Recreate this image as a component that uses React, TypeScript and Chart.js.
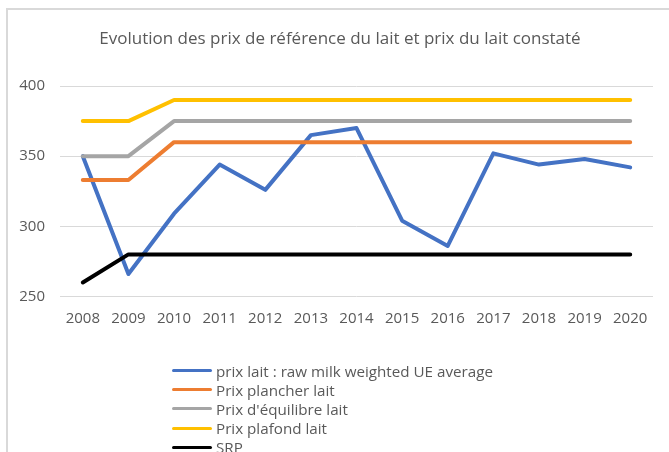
import React, { useEffect, useRef } from "react";
import { Chart, registerables } from "chart.js";

Chart.register(...registerables);

const years = ["2008", "2009", "2010", "2011", "2012", "2013", "2014", "2015", "2016", "2017", "2018", "2019", "2020"];
const prixLait = [350, 266, 309, 344, 326, 365, 370, 304, 286, 352, 344, 348, 342];
const prixPlancher = [333, 333, 360, 360, 360, 360, 360, 360, 360, 360, 360, 360, 360];
const prixEquilibre = [350, 350, 375, 375, 375, 375, 375, 375, 375, 375, 375, 375, 375];
const prixPlafond = [375, 375, 390, 390, 390, 390, 390, 390, 390, 390, 390, 390, 390];
const srp = [260, 280, 280, 280, 280, 280, 280, 280, 280, 280, 280, 280, 280];

const titleText = "Evolution des prix de référence du lait et prix du lait constaté";
const seriesNames = [
  "prix lait : raw milk weighted UE average",
  "Prix plancher lait",
  "Prix d'équilibre lait",
  "Prix plafond lait",
  "SRP",
];
const seriesColors = ["#4472C4", "#ED7D31", "#A5A5A5", "#FFC000", "#000000"];
const seriesData = [prixLait, prixPlancher, prixEquilibre, prixPlafond, srp];

const FONT = "'Open Sans', sans-serif";
const TEXT = "#595959";

export default function App() {
  const ref = useRef<HTMLCanvasElement | null>(null);

  useEffect(() => {
    if (!ref.current) return;
    const chart = new Chart(ref.current, {
      type: "line",
      data: {
        labels: years,
        datasets: seriesData.map((d, i) => ({
          label: seriesNames[i],
          data: d,
          borderColor: seriesColors[i],
          backgroundColor: seriesColors[i],
          borderWidth: 4,
          pointRadius: 0,
          tension: 0,
          fill: false,
          borderCapStyle: "round" as const,
          borderJoinStyle: "round" as const,
          order: 5 - i,
        })),
      },
      options: {
        responsive: false,
        animation: false,
        maintainAspectRatio: false,
        layout: { padding: { left: 0, right: 16, top: 86, bottom: 125.5 } },
        plugins: {
          legend: { display: false },
          tooltip: { enabled: false },
          title: { display: false },
        },
        scales: {
          x: {
            offset: true,
            grid: { display: false, drawTicks: false },
            border: { display: false },
            ticks: { color: TEXT, font: { family: FONT, size: 15 }, padding: 13, maxRotation: 0, autoSkip: false },
            afterFit: (s: any) => { s.height = 30; },
          },
          y: {
            min: 250,
            max: 400,
            ticks: { stepSize: 50, color: TEXT, font: { family: FONT, size: 15 }, padding: 15 },
            grid: { color: "#d9d9d9", lineWidth: 1, drawTicks: false },
            border: { display: false },
            afterFit: (s: any) => { s.width = 60; },
          },
        },
      },
    });
    return () => chart.destroy();
  }, []);

  return (
    <div style={{ position: "fixed", left: 0, top: 0, width: 669, height: 452, overflow: "hidden", background: "#fff" }}>
      <div
        style={{
          position: "absolute",
          left: 6,
          top: 8,
          width: 800,
          height: 600,
          borderLeft: "2px solid #d9d9d9",
          borderTop: "2px solid #d9d9d9",
        }}
      />
      <canvas ref={ref} width={669} height={452} style={{ position: "absolute", left: 0, top: 0 }} />
      <div
        style={{
          position: "absolute",
          left: 0,
          top: 28,
          width: 680,
          textAlign: "center",
          fontFamily: FONT,
          fontSize: 17,
          lineHeight: "20px",
          color: TEXT,
          whiteSpace: "nowrap",
        }}
      >
        {titleText}
      </div>
      <div style={{ position: "absolute", left: 172, top: 361, fontFamily: FONT, fontSize: 15.2, color: TEXT }}>
        {seriesNames.map((n, i) => (
          <div key={n} style={{ display: "flex", alignItems: "center", height: 19.2, whiteSpace: "nowrap" }}>
            <span
              style={{
                display: "inline-block",
                width: 40,
                height: 3,
                borderRadius: 2,
                background: seriesColors[i],
                marginRight: 4,
              }}
            />
            <span>{n}</span>
          </div>
        ))}
      </div>
    </div>
  );
}
